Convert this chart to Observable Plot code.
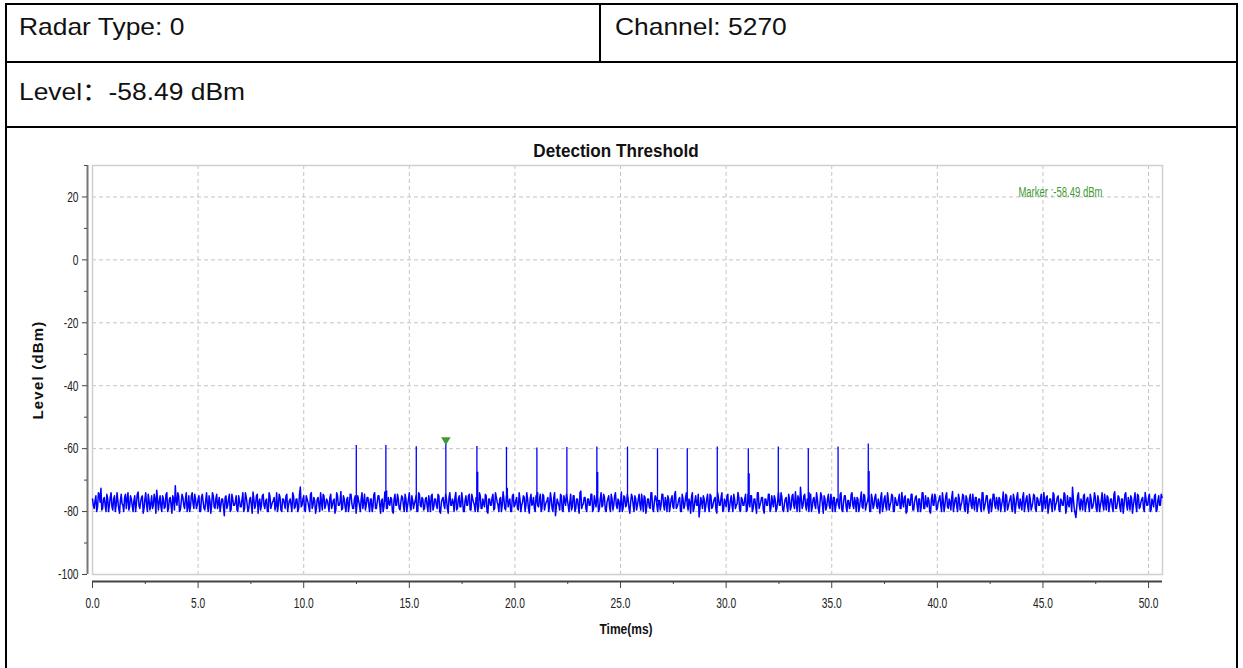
<!DOCTYPE html>
<html><head><meta charset="utf-8">
<script src="https://cdn.jsdelivr.net/npm/d3@7"></script>
<script src="https://cdn.jsdelivr.net/npm/@observablehq/plot@0.6"></script>
<style>
body{margin:0;background:#fff;width:1243px;height:668px;overflow:hidden;position:relative;font-family:"Liberation Sans",Arial,sans-serif;}
.line{position:absolute;background:#000;z-index:5}
.cell{position:absolute;font-size:24px;line-height:24px;color:#111;white-space:nowrap;z-index:6;transform:scaleX(1.1);transform-origin:0 0}
.cjk{font-family:"Noto Sans CJK SC",sans-serif}
#chart{position:absolute;left:0;top:130px;z-index:2}
.lbl{position:absolute;white-space:nowrap;color:#111;z-index:3;font-weight:bold}
</style></head><body>
<div class="line" style="left:5px;top:3px;width:2px;height:700px"></div>
<div class="line" style="left:1236px;top:3px;width:2px;height:700px"></div>
<div class="line" style="left:5px;top:3px;width:1233px;height:2px"></div>
<div class="line" style="left:5px;top:61px;width:1233px;height:2px"></div>
<div class="line" style="left:5px;top:126px;width:1233px;height:2px"></div>
<div class="line" style="left:599px;top:3px;width:2px;height:60px"></div>
<div id="h1" class="cell" style="left:19px;top:15px"></div>
<div id="h2" class="cell" style="left:615px;top:15px"></div>
<div id="h3" class="cell" style="left:19px;top:78px"></div>
<div id="title" class="lbl" style="left:616px;top:142px;font-size:18px;line-height:18px;transform:translateX(-50%) scaleX(0.95)"></div>
<div id="xlabel" class="lbl" style="left:626px;top:621px;font-size:15px;line-height:15px;transform:translateX(-50%) scaleX(0.8)"></div>
<div id="ylabel" class="lbl" style="left:37px;top:370px;font-size:15px;line-height:15px;letter-spacing:1.2px;transform:translate(-50%,-50%) rotate(-90deg)"></div>
<div id="chart"></div>
<script>
// ---- header texts ----
const radarTypeText = "Radar Type: 0";
const channelText = "Channel: 5270";
const levelName = "Level";
const levelColon = "：";
const levelValue = "-58.49 dBm";
const chartTitle = "Detection Threshold";
const xAxisTitle = "Time(ms)";
const yAxisTitle = "Level (dBm)";
const markerText = "Marker :-58.49 dBm";

// ---- axes ----
const xDomain = [0, 50.66];
const yDomain = [-100, 30];
const xMajorTicks = [0, 5, 10, 15, 20, 25, 30, 35, 40, 45, 50];
const xMinorTicks = [2.5, 7.5, 12.5, 17.5, 22.5, 27.5, 32.5, 37.5, 42.5, 47.5];
const yMajorTicks = [-100, -80, -60, -40, -20, 0, 20];
const yMinorTicks = [-90, -70, -50, -30, -10, 10, 30];

// ---- trace: noise samples (dBm) ----
// noiseLevels at t = i*sampleInterval, noiseLevelsMid at t = (i+0.5)*sampleInterval
const sampleInterval = 0.08;
const noiseLevels = [
-76,-79,-75,-78.5,-74.5,-72.6,-79,-75.5,-80,-76,-78,-74,-79.5,-75,-78,-76.5,-80.5,-74.5,-78,-75.5,
-79,-74,-78.5,-76,-80,-75,-77.5,-73.8,-79,-75.5,-80.5,-76,-78,-74.5,-79.5,-75,-78,-76,-73.2,-79.5,
-75,-80,-76,-78.5,-74,-79,-75.5,-80.5,-76,-71.8,-78,-75,-79.5,-74.5,-78,-76,-80,-75,-78.5,-74,
-79,-76,-78,-75,-80,-74.5,-79,-76.5,-78,-75,-80.5,-74,-78.5,-76,-79,-75.5,-78,-76,-81.3,-75,
-78,-74.5,-79.5,-76,-78,-75,-80,-76.5,-78.5,-74,-79,-75.5,-80,-76,-78,-73.8,-79,-75,-80.5,-76,
-78,-74.5,-79,-76,-80,-75,-78,-76.5,-79.5,-74,-78,-75.5,-80,-76,-79,-74.5,-78,-76,-80,-75,
-78.5,-76,-79,-72.2,-78,-75,-80,-76,-78.5,-74.5,-79,-75.5,-80.5,-76,-78,-74,-79.5,-75,-78,-76.5,
-80,-74.5,-78,-76,-79.5,-75,-78,-73.6,-79,-76,-80,-75.5,-78,-74.5,-79,-76,-80.5,-75,-78,-76,
-79,-74.5,-78,-75.5,-80,-76,-78.5,-74,-79,-75,-78,-76.5,-80,-73.8,-79,-75.5,-78,-76,-80.5,-74.5,
-78,-76,-79.5,-75,-78,-74.5,-80,-76,-78.5,-75,-79,-76.5,-80,-74,-78,-75.5,-79.5,-76,-78,-75,
-80,-74.5,-78.5,-76,-79,-75,-80.5,-76,-78,-74.5,-79,-75.5,-78,-76,-80,-73.9,-79,-75,-78.5,-76,
-80,-75,-78,-74.5,-79.5,-76,-78,-75.5,-80,-74,-79,-76,-78.5,-75,-80.5,-76,-78,-74.5,-79,-75.5,
-78,-76,-80,-73.7,-79,-75,-78.5,-76,-80,-74.5,-78,-75.5,-79.5,-76,-78,-75,-80,-74,-79,-76,
-78,-75.5,-80,-76,-78.5,-74.5,-79,-75,-78,-76.5,-80,-74,-79,-75.5,-81.3,-76,-78,-74.5,-79.5,-75,
-78,-76,-80,-74.5,-78.5,-75,-79,-76,-80.5,-73.5,-78,-75.5,-79,-76,-78,-74.5,-80,-75,-78.5,-76,
-79,-74,-78,-75.5,-80,-76,-78.5,-74.5,-79.5,-75,-78,-76,-80,-73.8,-79,-75.5,-78,-76,-80.5,-74.5,
-78,-75,-79.5,-76,-78,-74.5,-80,-75.5,-78.5,-76,-79,-74,-80,-75,-78,-76.5,-79.5,-74.5,-78,-75.5,
-80,-76,-78,-75,-79,-73.6,-78.5,-76,-80,-74.5,-79,-75.5,-78,-76,-80.5,-74,-79,-75,-78,-81.7,
-75.5,-79,-76,-78,-74.5,-80,-75,-78.5,-76,-79.5,-74,-78,-75.5,-80,-76,-78.5,-74.5,-79,-75,-80,
-76,-78,-73.9,-79.5,-75.5,-78,-76,-80,-74.5,-78.5,-75,-79,-76,-80.5,-74,-78,-75.5,-79.5,-76,-78,
-74.5,-80,-75,-78.5,-76,-79,-74,-78,-75.5,-80,-76,-78.5,-74.5,-79.5,-75,-78,-73.7,-80,-76,-72.3,
-79,-75,-78,-76,-80,-74.5,-78.5,-75.5,-79,-76,-80.5,-74,-78,-75,-79.5,-76,-78,-74.5,-80,-75.5,
-78,-76,-79,-74,-80,-75,-78.5,-76.5,-79,-74.5,-78,-75.5,-80,-76,-78.5,-73.8,-79,-75,-78,-76,
-80,-74.5,-79,-75.5,-78,-76,-80.5,-74,-78.5,-75,-79.5,-76,-78,-74.5,-80,-75.5,-78,-76,-79,-73.9,
-78.5,-75,-80,-76,-78,-74.5,-79.5,-75.5,-78,-76,-80,-74,-79,-75,-78.5,-76.5,-80.5,-74.5,-78,-75.5,
-79,-76,-78,-74,-80,-75,-78.5,-76,-79.5,-73.6,-78,-75.5,-80,-76,-78,-74.5,-79,-75,-80.5,-76,
-78,-74.5,-79.5,-75.5,-78,-76,-80,-74,-78.5,-75,-79,-76.5,-80,-74.5,-78,-75.5,-79.5,-76,-78,-73.8,
-80,-75,-78.5,-76,-79,-74.5,-80.5,-75.5,-78,-76,-79.5,-74,-78,-75,-80,-76,-78.5,-74.5,-79,-75.5,
-78,-76,-80,-73.9,-79,-75,-78.5,-76,-80,-74.5,-78,-75.5,-79.5,-76,-78,-74,-80.5,-75,-78.5,-76,
-72.3,-79,-81.9,-75,-78,-76,-79.5,-74.5,-78,-75.5,-80,-76,-78.5,-74,-79,-75,-80,-76.5,-78,-74.5,
-79.5,-75.5,-78,-76,-80,-73.7,-79,-75,-78.5,-76,-80.5,-74.5,-78,-75.5,-79.5,-76,-78,-74,-80,-75,
-78.5,-76,-79,-73.9,-78,-75.5,-80,-76,-78.5,-74.5,-79.5,-75,-78,-75.5
];
const noiseLevelsMid = [
-78,-76.5,-80,-74,-77,-79.5,-76,-78,-74.5,-80,-75.5,-78.5,-76,-80,-74,-79,-76.5,-77.5,-80,-74.5,
-76,-79.5,-75,-78,-76.5,-80,-74.5,-78,-77,-75,-79,-74,-80,-76.5,-77.5,-79,-74.5,-80.5,-76,-77,
-78.5,-75,-79,-74.5,-80,-76,-78,-75,-79.5,-76.5,-74,-80,-77,-75.5,-79,-74,-78.5,-80,-75,-77.5,
-74.5,-79,-76,-80,-75.5,-77,-79.5,-74,-80,-76.5,-78,-75,-79,-74.5,-77.5,-80,-76,-78.5,-75.5,-79,
-76,-80,-74.5,-78,-77,-79.5,-75,-78.5,-76,-80,-74,-77.5,-79,-75.5,-80.5,-76,-78,-74.5,-77,-79.5,
-75,-78,-76.5,-80,-74,-79,-77,-75.5,-78,-80,-74.5,-79.5,-76,-77.5,-75,-80,-76.5,-78,-74,-79,
-76,-80,-74.5,-78.5,-76,-79.5,-75,-77,-80,-74,-78,-76.5,-79,-75.5,-80,-77,-74.5,-79,-76,-78,
-75.5,-79,-76.5,-80.5,-74,-78,-77,-79.5,-75,-78.5,-76,-80,-74.5,-77.5,-79,-75,-78,-76.5,-80,-74,
-77,-79.5,-75.5,-78,-76,-80,-74.5,-79,-77,-75,-80.5,-76,-78.5,-74,-79,-77.5,-75.5,-80,-76,-78,
-74.5,-79,-77,-75.5,-80,-76,-78,-74,-79.5,-76.5,-77.5,-75,-80,-74.5,-78.5,-76,-79,-75.5,-80,-77,
-75,-79.5,-76,-78,-74.5,-80,-77,-75.5,-79,-76,-80.5,-74,-78,-77,-75.5,-79.5,-76,-78.5,-74,-80,
-76.5,-78,-75,-79.5,-74.5,-77,-80,-76,-78.5,-75,-79,-77.5,-74.5,-80,-76,-78,-75.5,-79.5,-74,-77,
-80,-75.5,-78,-76,-79.5,-74.5,-77,-80,-75,-78.5,-76.5,-79,-74,-80,-77,-75.5,-78,-76,-80.5,-74.5,
-77.5,-79,-75,-78,-76,-80,-74.5,-79.5,-77,-75.5,-78,-76,-80,-74,-78.5,-77,-79.5,-75,-80,-76.5,
-74.5,-78,-77,-79.5,-75,-80,-76,-78.5,-74,-79,-77.5,-75.5,-80,-76,-78,-74.5,-79,-77,-75,-80,
-76,-78.5,-74.5,-79.5,-77,-75,-80,-76,-78,-74,-79,-76.5,-77.5,-80,-75,-78.5,-74.5,-79,-77,-75.5,
-80,-76,-78,-74.5,-79.5,-77,-75,-80.5,-76,-78.5,-74,-79,-77,-75.5,-80,-76.5,-78,-74.5,-79.5,-77,
-75,-80,-76,-78.5,-74.5,-79,-77.5,-75.5,-80,-76,-78,-74,-79.5,-77,-75.5,-80,-76.5,-78,-74.5,-79,
-77,-75,-80,-76,-78.5,-74.5,-79,-77,-75.5,-80.5,-76,-78,-74,-79.5,-77,-75,-80,-76.5,-78,-74.5,
-79,-77.5,-75.5,-80,-76,-78,-74.5,-79.5,-77,-75,-80,-76,-78.5,-74,-79,-77,-75.5,-80.5,-76,-78,
-74.5,-79,-77,-75,-80,-76.5,-78,-74,-79.5,-77.5,-75.5,-80,-76,-78.5,-74.5,-79,-77,-75,-80,-76,
-78,-74.5,-79.5,-77,-75.5,-80,-76,-78,-74,-79,-77.5,-75,-80.5,-76,-78.5,-74.5,-79,-77,-75.5,-80,
-76,-78,-74.5,-79.5,-77,-75,-80,-76.5,-78,-74,-79,-77,-75.5,-80,-76,-78.5,-74.5,-79.5,-77,-75,
-80,-76,-78,-74.5,-79,-77.5,-75.5,-80,-76,-78.5,-74,-79.5,-77,-75,-80,-76.5,-78,-74.5,-79,-77,
-75.5,-80.5,-76,-78,-74.5,-79.5,-77,-75,-80,-76,-78.5,-74,-79,-77.5,-75.5,-80,-76,-78,-74.5,-79.5,
-77,-75,-80,-76.5,-78,-74,-79,-77,-75.5,-80,-76,-78.5,-74.5,-79.5,-77,-75,-80,-76,-78,-74.5,
-79,-77.5,-75.5,-80,-76,-78.5,-74,-79.5,-77,-75,-80.5,-76,-78,-74.5,-79,-77,-75.5,-80,-76.5,-78,
-74.5,-79.5,-77,-75,-80,-76,-78,-74,-79,-77.5,-75.5,-80,-76,-78.5,-74.5,-79.5,-77,-75,-80,-76,
-78,-74.5,-79,-77,-75.5,-80.5,-76,-78,-74,-79.5,-77,-75,-80,-76.5,-78,-74.5,-79,-77.5,-75.5,-80,
-76,-80.5,-78.5,-74,-79.5,-77,-75,-80,-76,-78,-74.5,-79,-77,-75.5,-80,-76.5,-78,-74,-79.5,-77,
-75,-80,-76,-78.5,-74.5,-79,-77.5,-75.5,-80,-76,-78,-74,-79.5,-77,-75,-80.5,-76,-78,-74.5,-79,
-77,-75.5,-80,-76,-78,-74.5,-79.5,-77,-75,-80,-76.5,-78,-74.5
];

// ---- radar pulses ----
const noiseFloor = -77;
const pulseTimes  = [12.49, 13.89, 15.33, 16.73, 18.20, 19.60, 21.04, 22.46, 23.88, 25.33, 26.75, 28.16, 29.58, 31.05, 32.47, 33.89, 35.30, 36.73];
const pulsePeaks  = [-59.0, -59.0, -59.4, -58.49, -59.3, -59.6, -59.8, -59.6, -59.5, -59.5, -60.0, -60.0, -59.5, -60.0, -59.5, -60.0, -59.5, -58.5];
const pulseShoulders = [null, -73.5, null, null, -67.5, -72.6, -74, null, -67.6, null, null, null, null, -68.0, null, -74, null, -67.3];

// ---- marker ----
const markerTime = 16.73;
const markerLevel = -58.49;

const noise = noiseLevels.map((v, i) => ({t: i * sampleInterval, v}))
  .concat(noiseLevelsMid.map((v, i) => ({t: (i + 0.5) * sampleInterval, v})))
  .sort((a, b) => a.t - b.t);
const pulses = pulseTimes.map((t, i) => ({t, v: pulsePeaks[i], s: pulseShoulders[i]}));
const shoulders = pulses.filter(d => d.s != null);

document.getElementById("h1").textContent = radarTypeText;
document.getElementById("h2").textContent = channelText;
const h3 = document.getElementById("h3");
h3.append(levelName);
const colonSpan = document.createElement("span");
colonSpan.className = "cjk";
colonSpan.textContent = levelColon;
h3.append(colonSpan, levelValue);
document.getElementById("title").textContent = chartTitle;
document.getElementById("xlabel").textContent = xAxisTitle;
document.getElementById("ylabel").textContent = yAxisTitle;

const blue = "#0000ff";
const green = "#3f9a35";
const fmtX = d => d.toFixed(1);
const fmtY = d => String(d);

const chart = Plot.plot({
  width: 1243, height: 538,
  marginLeft: 92, marginRight: 81, marginTop: 35, marginBottom: 94,
  x: {domain: xDomain},
  y: {domain: yDomain},
  style: {background: "transparent", fontFamily: '"Liberation Sans",Arial,sans-serif', fontSize: "15px", color: "#222", overflow: "visible"},
  marks: [
    Plot.gridX(xMajorTicks, {stroke: "#c4c4c4", strokeOpacity: 1, strokeDasharray: "4,3"}),
    Plot.gridY(yMajorTicks, {stroke: "#c4c4c4", strokeOpacity: 1, strokeDasharray: "4,3"}),
    Plot.frame({stroke: "#cfcfcf", strokeWidth: 1.5}),
    Plot.ruleY([yDomain[0]], {dy: 7, stroke: "#444", strokeWidth: 2}),
    Plot.ruleX([xDomain[0]], {dx: -5, stroke: "#777", strokeWidth: 2}),
    Plot.axisX({ticks: xMajorTicks, tickSize: 7, dy: 7, tickPadding: 9, tickFormat: fmtX, label: null, stroke: "#444"}),
    Plot.axisX({ticks: xMinorTicks, tickSize: 3, dy: 7, tickFormat: () => "", label: null, stroke: "#444"}),
    Plot.axisY({ticks: yMajorTicks, tickSize: 5, dx: -5, tickPadding: 4, tickFormat: fmtY, label: null, stroke: "#444"}),
    Plot.axisY({ticks: yMinorTicks, tickSize: 3, dx: -5, tickFormat: () => "", label: null, stroke: "#444"}),
    Plot.line(noise, {x: "t", y: "v", stroke: blue, strokeWidth: 1.5}),
    Plot.ruleX(pulses, {x: "t", y1: noiseFloor, y2: "v", stroke: blue, strokeWidth: 1.3}),
    Plot.ruleX(shoulders, {x: "t", y1: noiseFloor, y2: "s", stroke: blue, strokeWidth: 2, dx: 0.5}),
    Plot.dot([{t: markerTime, v: markerLevel}], {x: "t", y: "v", symbol: "triangle", rotate: 180, r: 3.5, fill: green, stroke: null, dy: -4}),
    Plot.text([markerText], {frameAnchor: "top-right", dx: -60, dy: 22, textAnchor: "end", fill: green, fontSize: 14})
  ]
});
// condense the chart's texts horizontally, like the reference's narrow face
chart.querySelectorAll("text").forEach(t => {
  const tr = t.getAttribute("transform");
  if (tr && /translate/.test(tr)) t.setAttribute("transform", tr + " scale(0.68,1)");
  else {
    const x = +t.getAttribute("x") || 0;
    t.setAttribute("transform", `translate(${x},0) scale(0.68,1) translate(${-x},0)` + (tr ? " " + tr : ""));
  }
});
document.getElementById("chart").appendChild(chart);
</script>
</body></html>
